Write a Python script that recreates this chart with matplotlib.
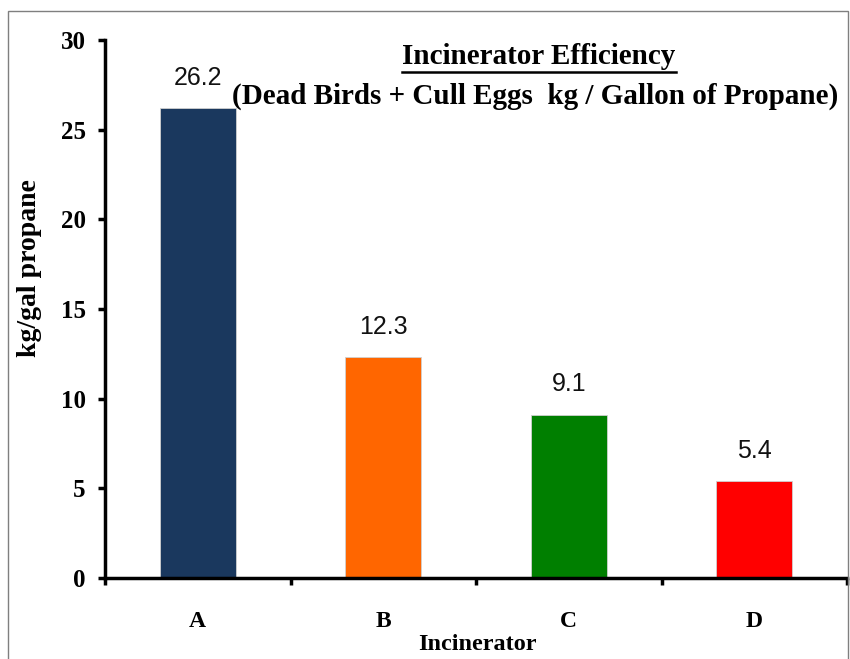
import matplotlib
matplotlib.use("Agg")
import matplotlib.pyplot as plt
from matplotlib.patches import Rectangle
from matplotlib.lines import Line2D

# ---------------------------------------------------------------------------
# Data
# ---------------------------------------------------------------------------
incinerators = ["A", "B", "C", "D"]
efficiency = [26.2, 12.3, 9.1, 5.4]
bar_colors = ["#1A385E", "#FF6600", "#007F00", "#FF0000"]
y_ticks = [0, 5, 10, 15, 20, 25, 30]

TITLE_1 = "Incinerator Efficiency"
TITLE_2 = "(Dead Birds + Cull Eggs  kg / Gallon of Propane)"

W, H = 850, 659
SERIF = ["Liberation Serif", "DejaVu Serif"]
SANS = ["Liberation Sans", "DejaVu Sans"]

fig = plt.figure(figsize=(W / 100, H / 100), dpi=100)

# thin grey frame round the whole chart area
fig.patches.append(Rectangle((8 / W, -0.05), 840 / W, 1 - 11 / H + 0.05,
                             transform=fig.transFigure, fill=False,
                             edgecolor="#7f7f7f", linewidth=1.0))

ax = fig.add_axes([105 / W, 81 / H, 742 / W, 538 / H])
x = range(len(incinerators))
ax.bar(x, efficiency, width=0.41, color=bar_colors,
       edgecolor="#d0d0d0", linewidth=0.6, zorder=2)

for xi, v in zip(x, efficiency):
    ax.annotate(f"{v:.1f}", (xi, v), xytext=(0, 22), textcoords="offset points",
                ha="center", va="center", fontsize=18, family=SANS,
                color="#111111")

ax.set_xlim(-0.5, 3.5)
ax.set_ylim(0, 30)
ax.set_yticks(y_ticks)
ax.set_xticks([-0.5, 0.5, 1.5, 2.5, 3.5])
ax.set_xticklabels([])
ax.set_xticks(list(x), minor=True)
ax.set_xticklabels(incinerators, minor=True, family=SERIF, fontsize=17,
                   fontweight="bold")
ax.tick_params(axis="x", which="minor", length=0, pad=24)
ax.tick_params(axis="x", which="major", length=5, width=2.5, direction="out")
ax.tick_params(axis="y", length=5, width=2.5, direction="out", pad=9,
               labelsize=18)
for lbl in ax.get_yticklabels():
    lbl.set_family(SERIF)
    lbl.set_fontweight("bold")

for side in ("top", "right"):
    ax.spines[side].set_visible(False)
for side in ("left", "bottom"):
    ax.spines[side].set_linewidth(2.5)

fig.text(30 / W, 1 - 268 / H, "kg/gal propane", rotation=90, ha="center",
         va="center", family=SERIF, fontweight="bold", fontsize=20)
fig.text(477 / W, 1 - 645 / H, "Incinerator", ha="center", va="center",
         family=SERIF, fontweight="bold", fontsize=17.5)

t1 = fig.text(539 / W, 1 - 57 / H, TITLE_1, ha="center", va="center",
              family=SERIF, fontweight="bold", fontsize=21)
fig.text(535 / W, 1 - 96 / H, TITLE_2, ha="center", va="center",
         family=SERIF, fontweight="bold", fontsize=21)

# underline for the first title line
fig.canvas.draw()
bb = t1.get_window_extent()
uy = bb.y0 - 1
fig.lines.append(Line2D([bb.x0 / W, bb.x1 / W], [uy / H, uy / H],
                        transform=fig.transFigure, color="black",
                        linewidth=1.8))

fig.savefig("out.png", dpi=100)
